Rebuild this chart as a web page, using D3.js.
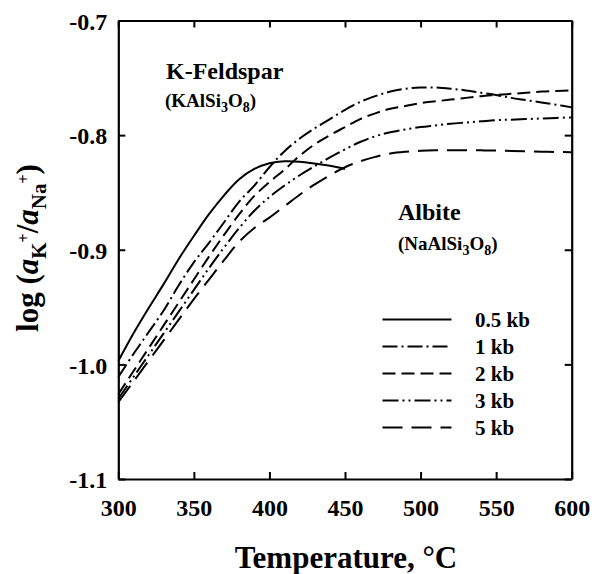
<!DOCTYPE html>
<html>
<head>
<meta charset="utf-8">
<script src="https://cdn.jsdelivr.net/npm/d3@7"></script>
<style>
  html, body { margin: 0; padding: 0; background: #fff; }
  svg { display: block; }
  svg text { font-family: "Liberation Serif", "Times New Roman", "DejaVu Serif", serif; font-weight: bold; fill: #000; }
</style>
</head>
<body>
<svg id="chart" width="592" height="574"></svg>
<script>
// ---------------- data ----------------
const temps05 = [300,310,320,330,340,350,360,370,380,390,400,410,420,430,440,450];
const kb05    = [-0.997,-0.973,-0.951,-0.930,-0.908,-0.888,-0.869,-0.8525,-0.8385,-0.8295,-0.8245,-0.8228,-0.8232,-0.8248,-0.8268,-0.8295];

const temps = [300,310,320,330,340,350,360,370,380,390,400,410,420,430,440,450,460,470,480,490,500,510,520,530,540,550,560,570,580,590,600];
const kb1 = [-1.011,-0.991,-0.972,-0.953,-0.931,-0.911,-0.894,-0.876,-0.858,-0.844,-0.828,-0.814,-0.803,-0.794,-0.786,-0.778,-0.771,-0.766,-0.762,-0.7595,-0.7585,-0.7585,-0.7595,-0.761,-0.763,-0.765,-0.7675,-0.7695,-0.7715,-0.7735,-0.7758];
const kb2 = [-1.026,-1.006,-0.986,-0.966,-0.946,-0.926,-0.906,-0.887,-0.869,-0.853,-0.841,-0.830,-0.818,-0.808,-0.800,-0.793,-0.786,-0.781,-0.777,-0.7745,-0.772,-0.7705,-0.769,-0.7675,-0.766,-0.765,-0.764,-0.763,-0.762,-0.7615,-0.761];
const kb3 = [-1.030,-1.011,-0.992,-0.973,-0.954,-0.935,-0.916,-0.898,-0.881,-0.866,-0.854,-0.844,-0.835,-0.827,-0.8195,-0.8125,-0.806,-0.801,-0.7975,-0.795,-0.793,-0.7915,-0.790,-0.789,-0.788,-0.787,-0.7865,-0.786,-0.7855,-0.785,-0.7845];
const kb5 = [-1.033,-1.015,-0.997,-0.979,-0.961,-0.943,-0.926,-0.909,-0.893,-0.881,-0.872,-0.862,-0.852,-0.843,-0.835,-0.828,-0.8229,-0.819,-0.816,-0.8145,-0.8137,-0.8133,-0.8132,-0.8132,-0.8133,-0.8135,-0.8138,-0.8141,-0.8144,-0.8147,-0.815];

const seriesNames = ["0.5 kb","1 kb","2 kb","3 kb","5 kb"];
const dashes = ["none","15,4,2,4","13,6","16,4,2,4,2,4","20,9"];

const xTicks = [300,350,400,450,500,550,600];
const yTicks = [-1.1,-1.0,-0.9,-0.8,-0.7];

// ---------------- layout ----------------
const FONT = "'Liberation Serif', 'Times New Roman', 'DejaVu Serif', serif";
const svg = d3.select("#chart");
const x = d3.scaleLinear().domain([300,600]).range([118.3,571.7]);
const y = d3.scaleLinear().domain([-1.1,-0.7]).range([479,20.5]);

const fmt = d => d.toFixed(0);
const fmtY = d => d.toFixed(1);

// axes (inward ticks on all sides)
const gB = svg.append("g").attr("transform",`translate(0,${y(-1.1)})`)
  .call(d3.axisBottom(x).tickValues(xTicks).tickFormat(fmt).tickSizeInner(-7).tickSizeOuter(0).tickPadding(20));
const gT = svg.append("g").attr("transform",`translate(0,${y(-0.7)})`)
  .call(d3.axisTop(x).tickValues(xTicks).tickFormat("").tickSizeInner(-7).tickSizeOuter(0));
const gL = svg.append("g").attr("transform",`translate(${x(300)},0)`)
  .call(d3.axisLeft(y).tickValues(yTicks).tickFormat(fmtY).tickSizeInner(-7).tickSizeOuter(0).tickPadding(11));
const gR = svg.append("g").attr("transform",`translate(${x(600)},0)`)
  .call(d3.axisRight(y).tickValues(yTicks).tickFormat("").tickSizeInner(-7).tickSizeOuter(0));

[gB,gT,gL,gR].forEach(g => {
  g.attr("font-family", FONT).attr("font-size",24);
  g.select(".domain").attr("stroke","#000").attr("stroke-width",2.2);
  g.selectAll(".tick line").attr("stroke","#000").attr("stroke-width",2);
  g.selectAll("text").attr("font-size",24).attr("font-family",FONT).attr("font-weight","bold").attr("fill","#000");
});
gL.selectAll("text").attr("dy","0.36em");

// curves
const line = d3.line().x(d => x(d[0])).y(d => y(d[1])).curve(d3.curveCatmullRom.alpha(0.5));
const allSeries = [
  d3.zip(temps05, kb05),
  d3.zip(temps, kb1),
  d3.zip(temps, kb2),
  d3.zip(temps, kb3),
  d3.zip(temps, kb5)
];
svg.append("g").selectAll("path").data(allSeries).join("path")
  .attr("d", line)
  .attr("fill","none").attr("stroke","#000").attr("stroke-width",2)
  .attr("stroke-dasharray",(d,i) => dashes[i]);

// legend
const lg = svg.append("g").attr("font-family",FONT);
const legY = [319.5, 346.5, 373.5, 400.5, 427.5];
seriesNames.forEach((name,i) => {
  lg.append("line").attr("x1",382.5).attr("x2",451.5).attr("y1",legY[i]).attr("y2",legY[i])
    .attr("stroke","#000").attr("stroke-width",2).attr("stroke-dasharray",dashes[i]);
  lg.append("text").attr("x",475).attr("y",legY[i]+7.5).attr("font-size",21).attr("font-family",FONT).text(name);
});

// mineral labels
function formula(xp, yp, parts) {
  const t = svg.append("text").attr("x",xp).attr("y",yp).attr("font-size",19).attr("font-family",FONT);
  parts.forEach(p => {
    if (p.sub) t.append("tspan").attr("font-size",14).attr("dy",5).text(p.s);
    else t.append("tspan").attr("font-size",19).attr("dy",p.back ? -5 : 0).text(p.s);
  });
}
svg.append("text").attr("x",166).attr("y",79).attr("font-size",24).attr("font-family",FONT).text("K-Feldspar");
formula(165, 107, [{s:"(KAlSi"},{s:"3",sub:true},{s:"O",back:true},{s:"8",sub:true},{s:")",back:true}]);
svg.append("text").attr("x",398).attr("y",220).attr("font-size",24).attr("font-family",FONT).text("Albite");
formula(398, 250, [{s:"(NaAlSi"},{s:"3",sub:true},{s:"O",back:true},{s:"8",sub:true},{s:")",back:true}]);

// axis titles
svg.append("text").attr("x",346).attr("y",568).attr("text-anchor","middle").attr("font-size",31).attr("font-family",FONT)
  .text("Temperature, \u00B0C");

const yt = svg.append("text").attr("transform","translate(38,248) rotate(-90)")
  .attr("text-anchor","middle").attr("font-size",31).attr("font-family",FONT);
yt.append("tspan").text("log (");
yt.append("tspan").attr("font-style","italic").text("a");
yt.append("tspan").attr("font-size",21).attr("dy",8).text("K");
yt.append("tspan").attr("font-size",16).attr("dy",-17).text("+");
yt.append("tspan").attr("font-size",31).attr("dy",9).text("/");
yt.append("tspan").attr("font-style","italic").text("a");
yt.append("tspan").attr("font-size",21).attr("dy",8).text("Na");
yt.append("tspan").attr("font-size",16).attr("dy",-17).text("+");
yt.append("tspan").attr("font-size",31).attr("dy",9).text(")");
</script>
</body>
</html>
